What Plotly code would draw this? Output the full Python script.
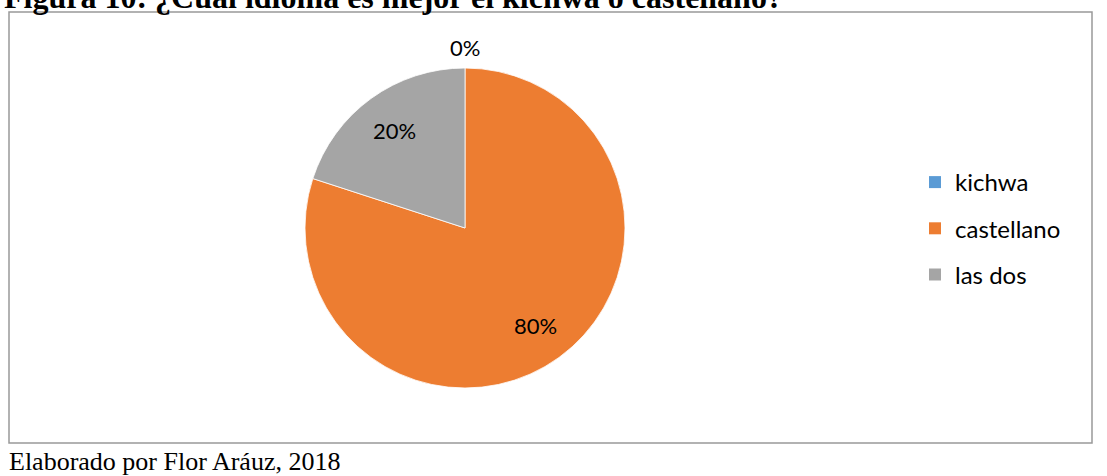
import math
import plotly.graph_objects as go

# ---- data ----
categories = ["kichwa", "castellano", "las dos"]
values = [0, 80, 20]
colors = ["#5B9BD5", "#ED7D31", "#A5A5A5"]
title_text = "Figura 10: ¿Cuál idioma es mejor el kichwa o castellano?"
footer_text = "Elaborado por Flor Aráuz, 2018"

# ---- layout constants (pixels) ----
W, H = 1107, 476
CX, CY, R = 465, 228, 160
label_radius = [1.13, 0.75, 0.75]   # relative to R, label placement per slice

def px(x):
    return x / W

def py(y):
    return 1 - y / H

fig = go.Figure()
fig.add_trace(go.Pie(
    labels=categories, values=values, sort=False, direction="clockwise",
    rotation=0, textinfo="none", hoverinfo="label+percent",
    marker=dict(colors=colors, line=dict(color="white", width=0.8)),
    domain=dict(x=[px(CX - R), px(CX + R)], y=[py(CY + R), py(CY - R)]),
    showlegend=False,
))

# legend via dummy traces (for Excel-like spacing)
for i, (cat, col) in enumerate(zip(categories, colors)):
    fig.add_trace(go.Scatter(
        x=[None], y=[None], mode="markers", name=cat, legendgroup=cat,
        marker=dict(symbol="square", size=12, color=col),
    ))

# data labels computed from values
total = sum(values)
cum = 0
annotations = []
for i, v in enumerate(values):
    frac = v / total
    mid = (cum + frac / 2) * 2 * math.pi
    cum += frac
    r = label_radius[i] * R
    lx = CX + r * math.sin(mid)
    ly = CY - r * math.cos(mid)
    annotations.append(dict(
        x=px(lx), y=py(ly), xref="paper", yref="paper", showarrow=False,
        text=f"{round(frac * 100)}%", font=dict(family="Lato", size=22, color="#000000"),
        xanchor="center", yanchor="middle",
    ))

annotations.append(dict(
    x=px(2), y=py(17), xref="paper", yref="paper", showarrow=False,
    text=f"<b>{title_text}</b>", xanchor="left", yanchor="bottom",
    font=dict(family="Liberation Serif", size=32, color="#000000"),
))
annotations.append(dict(
    x=px(7), y=py(478), xref="paper", yref="paper", showarrow=False,
    text=footer_text, xanchor="left", yanchor="bottom",
    font=dict(family="Liberation Serif", size=26, color="#000000"),
))

fig.update_layout(
    width=W, height=H,
    margin=dict(l=0, r=0, t=0, b=0),
    paper_bgcolor="white", plot_bgcolor="white",
    xaxis=dict(visible=False), yaxis=dict(visible=False),
    annotations=annotations,
    legend=dict(
        x=px(915), y=py(160), xanchor="left", yanchor="top",
        font=dict(family="Lato", size=24, color="#000000"),
        tracegroupgap=12, itemclick=False, bgcolor="rgba(0,0,0,0)",
    ),
    shapes=[dict(
        type="rect", xref="paper", yref="paper",
        x0=px(9), x1=px(1092), y0=py(443), y1=py(12),
        line=dict(color="#999999", width=1.5), fillcolor="rgba(0,0,0,0)",
    )],
)

fig.write_html("out.html", config={"displayModeBar": False},
               post_script="document.body.style.margin='0px';")
